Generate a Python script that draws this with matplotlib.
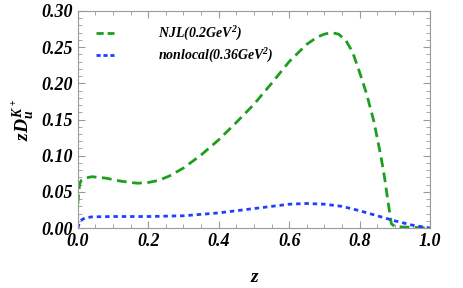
import numpy as np
import matplotlib.pyplot as plt
from matplotlib.ticker import MultipleLocator

plt.rcParams['font.family'] = ['Liberation Serif', 'DejaVu Serif']
plt.rcParams['mathtext.fontset'] = 'custom'
plt.rcParams['mathtext.rm'] = 'Liberation Serif:bold:italic'
plt.rcParams['mathtext.it'] = 'Liberation Serif:bold:italic'
plt.rcParams['mathtext.bf'] = 'Liberation Serif:bold:italic'

# NJL curve
z_njl = [0.0, 0.003, 0.006, 0.01, 0.02, 0.04, 0.06, 0.08, 0.10, 0.12, 0.15, 0.17, 0.20,
         0.23, 0.26, 0.30, 0.35, 0.40, 0.45, 0.50, 0.55, 0.60, 0.65, 0.68, 0.70, 0.72,
         0.74, 0.76, 0.78, 0.80, 0.82, 0.84, 0.86, 0.87, 0.88, 0.89, 0.90, 0.95, 1.0]
d_njl = [0.033, 0.052, 0.062, 0.066, 0.069, 0.071, 0.070, 0.069, 0.067, 0.065, 0.063, 0.062, 0.063,
         0.066, 0.072, 0.083, 0.101, 0.122, 0.146, 0.171, 0.200, 0.230, 0.254, 0.264, 0.268, 0.270,
         0.268, 0.260, 0.243, 0.215, 0.185, 0.148, 0.100, 0.072, 0.038, 0.006, 0.002, 0.001, 0.0]

# nonlocal curve
z_nl = [0.0, 0.005, 0.01, 0.02, 0.04, 0.1, 0.2, 0.3, 0.35, 0.4, 0.45, 0.5, 0.55, 0.6,
        0.65, 0.7, 0.75, 0.8, 0.85, 0.9, 0.95, 1.0]
d_nl = [0.0, 0.008, 0.011, 0.014, 0.0155, 0.016, 0.016, 0.017, 0.019, 0.021, 0.024, 0.027, 0.030, 0.033,
        0.034, 0.033, 0.030, 0.024, 0.017, 0.010, 0.004, 0.0]

fig = plt.figure(figsize=(4.63, 2.88), dpi=100)
ax = fig.add_axes([0.168, 0.208, 0.761, 0.754])

ax.plot(z_njl, d_njl, color='#1e9e1e', lw=2.0, dashes=(3.5, 2.0), label='NJL(0.2GeV$^2$)')
ax.plot(z_nl, d_nl, color='#1f3fff', lw=2.0, dashes=(1.6, 1.4), label='nonlocal(0.36GeV$^2$)')

ax.set_xlim(0, 1.0)
ax.set_ylim(0, 0.30)
ax.xaxis.set_major_locator(MultipleLocator(0.2))
ax.xaxis.set_minor_locator(MultipleLocator(0.05))
ax.yaxis.set_major_locator(MultipleLocator(0.05))
ax.yaxis.set_minor_locator(MultipleLocator(0.01))
ax.set_xticklabels([f'{v:.1f}' for v in ax.get_xticks()])
ax.set_yticklabels([f'{v:.2f}' for v in ax.get_yticks()])

for s in ax.spines.values():
    s.set_color('#999999')
ax.tick_params(which='both', direction='in', top=True, right=True, color='#999999')
ax.tick_params(which='major', length=5, labelsize=13)
ax.tick_params(which='minor', length=3)
for lab in ax.get_xticklabels() + ax.get_yticklabels():
    lab.set_fontweight('bold')
    lab.set_fontstyle('italic')

ax.set_xlabel('z', fontsize=14, fontweight='bold', fontstyle='italic', labelpad=14)
ax.set_ylabel('$zD_u^{K^+}$', fontsize=14, labelpad=4)

leg = ax.legend(loc='upper left', frameon=False, handlelength=1.3, handletextpad=3.2,
                fontsize=10, bbox_to_anchor=(0.015, 0.995), labelspacing=0.3)
for t in leg.get_texts():
    t.set_fontweight('bold')
    t.set_fontstyle('italic')
# legend handles: two dashes / three dots fit in the short handle (dashes scale with lw)
leg.get_lines()[0].set_dashes((2.6, 1.4))
leg.get_lines()[1].set_dashes((1.5, 1.0))

fig.savefig('out.png', dpi=100)
